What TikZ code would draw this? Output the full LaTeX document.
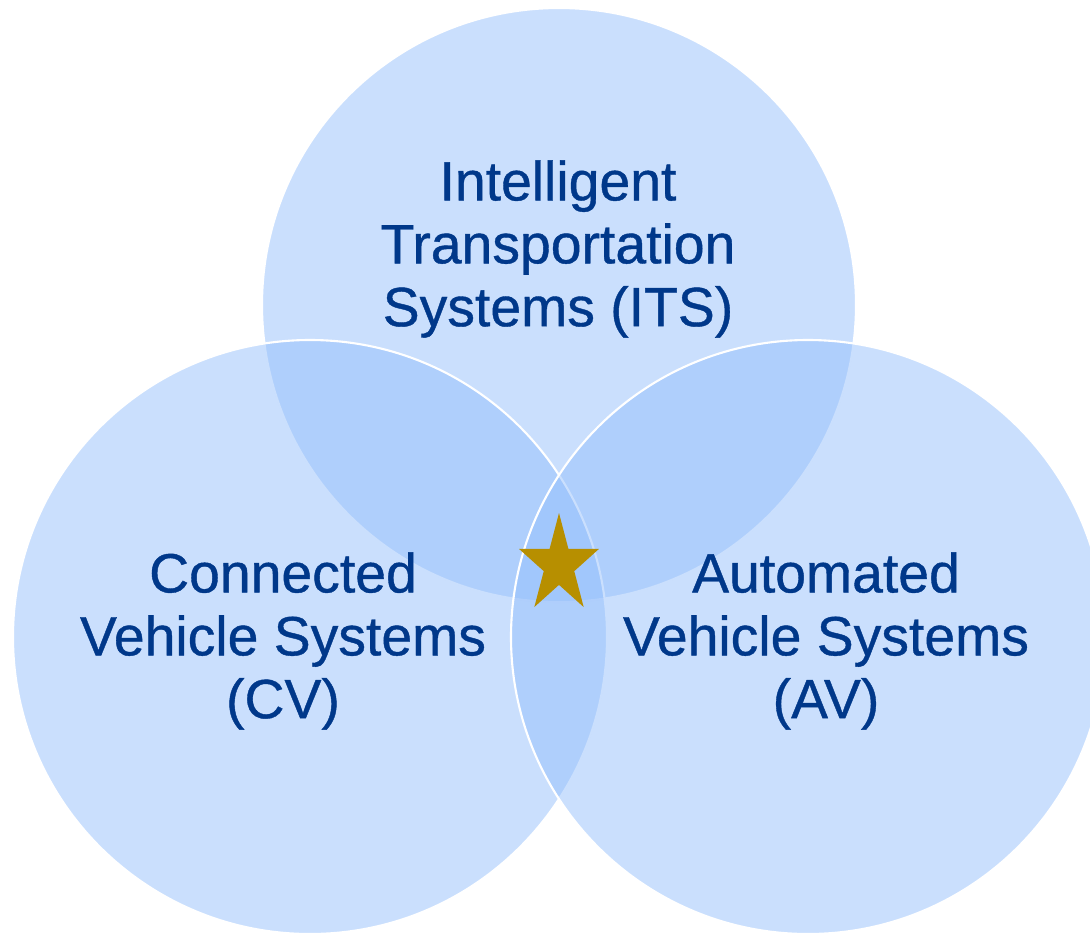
\documentclass[tikz,border=0pt]{standalone}
\usepackage{fontspec}
\setmainfont{Liberation Sans}
\newfontfamily\lblfont[FakeBold=0.7]{Liberation Sans}
\definecolor{ringblue}{RGB}{147,190,251}
\definecolor{textblue}{RGB}{0,56,138}
\definecolor{stargold}{RGB}{183,143,0}
\begin{document}
\begin{tikzpicture}[x=0.02cm,y=-0.02cm,
        ring/.style={fill=ringblue,fill opacity=0.49,draw=white,line width=1.2pt},
        lbl/.style={text=textblue,align=center,font=\lblfont\fontsize{31.5}{35.8}\selectfont}]
        \clip (0,0) rectangle (1090,934);
        \coordinate (T) at (559,305);
        \coordinate (L) at (310,637);
        \coordinate (R) at (808,637);
        \coordinate (S) at (559,565);
        \draw[ring] (T) circle (297);
        \draw[ring] (L) circle (297);
        \draw[ring] (R) circle (297);
        % star in the middle
        \begin{scope}[shift={(S)},x=0.84cm,y=1.04cm]
            \fill[stargold] (90:1) \foreach \k in {1,...,4}{ -- (54+72*\k:0.382) -- (90+72*\k:1)} -- (54:0.382) -- cycle;
        \end{scope}
        \node[lbl] (its) at (558,249) {Intelligent\\Transportation\\Systems (ITS)};
        \node[lbl] (cv) at (283,641) {Connected\\Vehicle Systems\\(CV)};
        \node[lbl] (av) at (826,641) {Automated\\Vehicle Systems\\(AV)};
    \end{tikzpicture}
\end{document}
